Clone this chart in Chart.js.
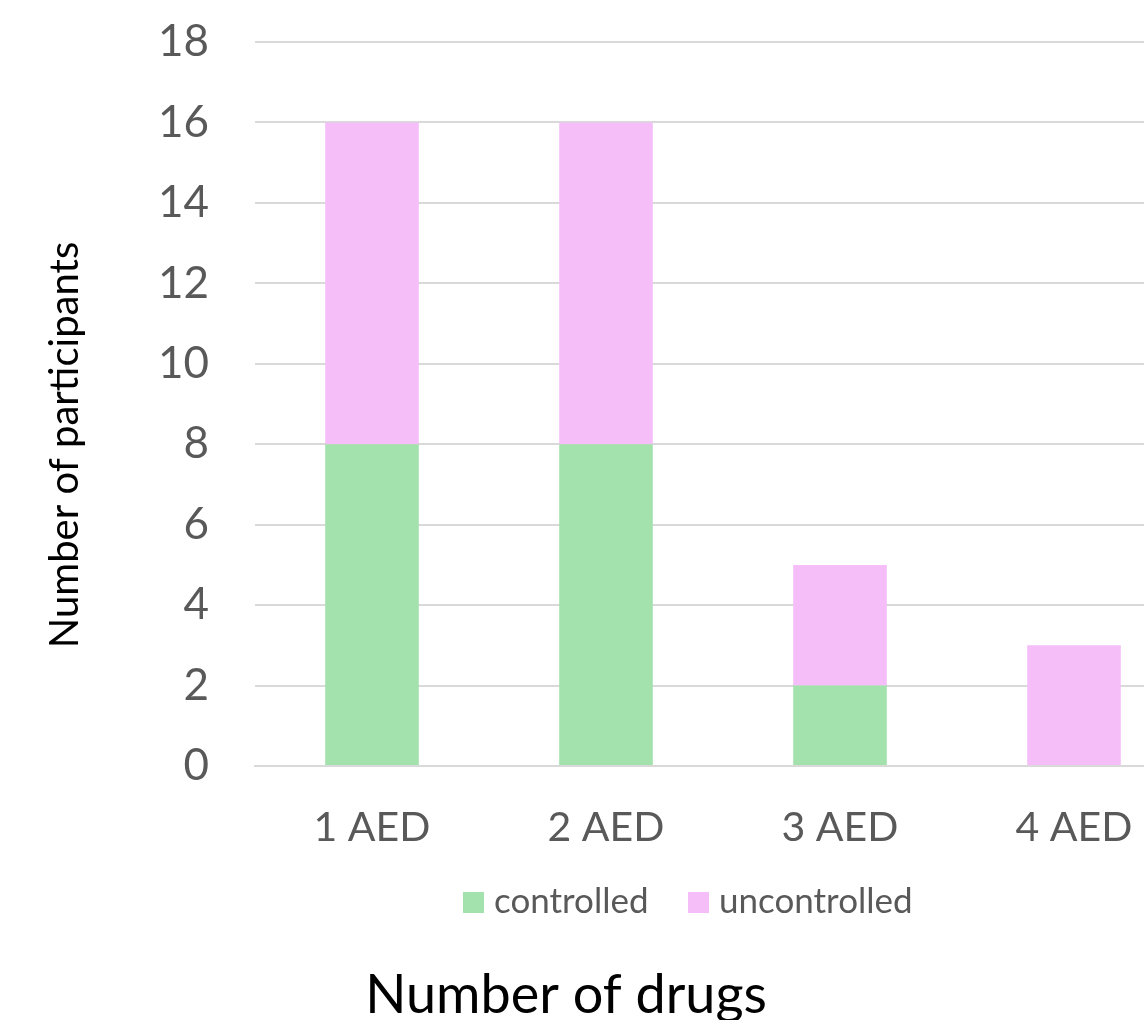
<!DOCTYPE html>
<html>
<head>
<meta charset="utf-8">
<script src="https://cdn.jsdelivr.net/npm/chart.js@4/dist/chart.umd.min.js"></script>
<style>
  html, body { margin: 0; padding: 0; background: #ffffff; overflow: hidden; }
  #wrap { position: absolute; left: 0; top: 0; width: 1376px; height: 1020px; }
</style>
</head>
<body>
<div id="wrap"><canvas id="chart"></canvas></div>
<script>
// Participants by number of anti-epileptic drugs, split by seizure control
const categories = ['1 AED', '2 AED', '3 AED', '4 AED'];
const controlled = [8, 8, 2, 0];
const uncontrolled = [8, 8, 3, 3];
const yTicks = [0, 2, 4, 6, 8, 10, 12, 14, 16, 18];

const xTitle = 'Number of drugs';
const yTitle = 'Number of participants';

const FONT = 'Lato, "Open Sans", sans-serif';
const TEXT = '#595959';
const GRID = '#d9d9d9';

// Axis titles and the series key, drawn directly on the canvas
const decorations = {
  id: 'decorations',
  afterDraw(chart) {
    const ctx = chart.ctx;
    ctx.save();

    // key: one square swatch plus label per dataset
    const keyX = [463, 688];
    ctx.font = '35px ' + FONT;
    ctx.textAlign = 'left';
    ctx.textBaseline = 'middle';
    chart.data.datasets.forEach((ds, i) => {
      ctx.fillStyle = ds.backgroundColor;
      ctx.fillRect(keyX[i], 892, 21, 21);
      ctx.fillStyle = TEXT;
      ctx.fillText(ds.label, keyX[i] + 31, 902);
    });

    ctx.fillStyle = '#000000';
    ctx.textAlign = 'center';
    ctx.font = '54px ' + FONT;
    ctx.fillText(xTitle, 566, 996);
    ctx.translate(65, 445);
    ctx.rotate(-Math.PI / 2);
    ctx.font = '40px ' + FONT;
    ctx.fillText(yTitle, 0, 0);
    ctx.restore();
  }
};

new Chart(document.getElementById('chart'), {
  type: 'bar',
  data: {
    labels: categories,
    datasets: [
      { label: 'controlled', data: controlled, backgroundColor: '#a3e1ad' },
      { label: 'uncontrolled', data: uncontrolled, backgroundColor: '#f5bef8' }
    ]
  },
  options: {
    responsive: true,
    maintainAspectRatio: false,
    animation: false,
    layout: { autoPadding: false, padding: { left: 0, right: 185, top: 42, bottom: 154 } },
    datasets: { bar: { barPercentage: 0.4, categoryPercentage: 1.0 } },
    plugins: {
      legend: { display: false },
      tooltip: { enabled: false }
    },
    scales: {
      x: {
        stacked: true,
        grid: { display: false, drawTicks: false },
        border: { display: true, color: GRID, width: 2 },
        ticks: { color: TEXT, font: { family: FONT, size: 41 }, padding: 37 },
        afterFit(scale) { scale.height = 100; }
      },
      y: {
        stacked: true,
        min: 0,
        max: 18,
        afterBuildTicks(scale) { scale.ticks = yTicks.map(v => ({ value: v })); },
        grid: { color: GRID, lineWidth: 2, drawTicks: false },
        border: { display: false },
        ticks: { color: TEXT, font: { family: FONT, size: 44 }, padding: 46 },
        afterFit(scale) {
          scale.width = 255;
          scale.paddingTop = 0;
          scale.paddingBottom = 0;
        }
      }
    }
  },
  plugins: [decorations]
});
</script>
</body>
</html>
